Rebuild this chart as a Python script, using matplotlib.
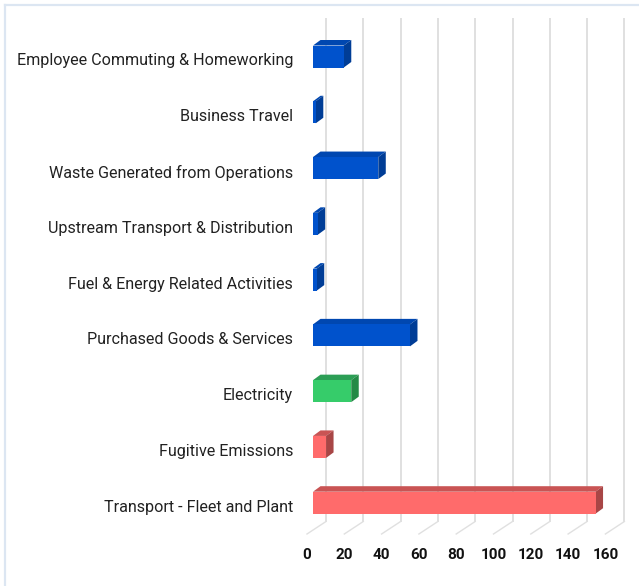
import matplotlib
matplotlib.use("Agg")
import matplotlib.pyplot as plt
from matplotlib.patches import Polygon
from matplotlib.lines import Line2D
from matplotlib.transforms import ScaledTranslation

# ---- data (top to bottom as displayed) ----
categories = [
    "Employee Commuting & Homeworking",
    "Business Travel",
    "Waste Generated from Operations",
    "Upstream Transport & Distribution",
    "Fuel & Energy Related Activities",
    "Purchased Goods & Services",
    "Electricity",
    "Fugitive Emissions",
    "Transport - Fleet and Plant",
]
values = [16.5, 1.5, 35, 2.5, 2, 52, 20.5, 7, 151.5]
groups = ["blue", "blue", "blue", "blue", "blue", "blue", "green", "red", "red"]
x_ticks = [0, 20, 40, 60, 80, 100, 120, 140, 160]

# ---- style ----
palette = {
    "blue": ("#0052CC", "#0047B0", "#003D96"),
    "green": ("#36CC6A", "#2C9E55", "#248A46"),
    "red": ("#FF6B6B", "#C95454", "#A84646"),
}
W, H, DPI = 639, 586, 100
plt.rcParams["font.family"] = ["Roboto", "DejaVu Sans"]

fig = plt.figure(figsize=(W / DPI, H / DPI), dpi=DPI)
fig.patch.set_facecolor("white")

# axes placed so that the bar front plane maps to pixels
px0, px_per_unit = 313.0, 1.865
xmax = 160
top_c, bot_c = 56.5, 502.7
n = len(categories)
step = (bot_c - top_c) / (n - 1)
ax_left = px0 / W
ax_right = (px0 + xmax * px_per_unit) / W
ax_top = 1 - (top_c - step / 2) / H
ax_bot = 1 - (bot_c + step / 2) / H
ax = fig.add_axes([ax_left, ax_bot, ax_right - ax_left, ax_top - ax_bot])
ax.set_xlim(0, xmax)
ax.set_ylim(-0.5, n - 0.5)
ax.axis("off")

def px_off(dx, dy):
    return ax.transData + ScaledTranslation(dx / DPI, dy / DPI, fig.dpi_scale_trans)

ypos = [n - 1 - i for i in range(n)]

# back-wall gridlines, floor depth lines and tick labels
back_dx = 13
grid_top = -0.5 + (bot_c + step / 2 - 18) / step
grid_bot = -0.5 + (bot_c + step / 2 - 521.5) / step
for t in x_ticks:
    ax.plot([t, t], [grid_bot, grid_top], color="#e0e0e0", lw=1.4,
            transform=px_off(back_dx, 0), clip_on=False, zorder=0,
            solid_capstyle="butt")
    x_b, y_b = px_off(back_dx, 0).transform((t, grid_bot))
    fig.add_artist(Line2D([x_b / W, (x_b - 19) / W], [y_b / H, (y_b - 12.5) / H],
                          color="#e0e0e0", lw=1.0, transform=fig.transFigure, zorder=0))
    ax.text(t, grid_bot, f"{t}", transform=px_off(back_dx - 19, -33.5),
            ha="center", va="center", fontsize=11, fontweight="bold",
            color="#111111", clip_on=False)

# 3D bars
bar_h = 22 / step
dxu = 7.5 / px_per_unit
dyu = 5.5 / step
for y, v, g in zip(ypos, values, groups):
    front, topc, sidec = palette[g]
    lo, hi = y - bar_h / 2, y + bar_h / 2
    ax.barh(y, v, height=bar_h, color=front, zorder=3, linewidth=0)
    ax.add_patch(Polygon([(0, hi), (v, hi), (v + dxu, hi + dyu), (dxu, hi + dyu)],
                         closed=True, facecolor=topc, edgecolor="none", zorder=2,
                         clip_on=False))
    ax.add_patch(Polygon([(v, lo), (v, hi), (v + dxu, hi + dyu), (v + dxu, lo + dyu)],
                         closed=True, facecolor=sidec, edgecolor="none", zorder=2,
                         clip_on=False))

# category labels
for y, c in zip(ypos, categories):
    ax.text(0, y, c, transform=px_off(-20, -4.5), ha="right", va="center",
            fontsize=11.6, color="#222222", clip_on=False)

# chart border (top and left)
fig.add_artist(Line2D([4.5 / W, 1], [1 - 4.5 / H, 1 - 4.5 / H], color="#dce6f2",
                      lw=1.6, transform=fig.transFigure))
fig.add_artist(Line2D([4.5 / W, 4.5 / W], [0, 1 - 4.5 / H], color="#dce6f2",
                      lw=1.6, transform=fig.transFigure))

fig.savefig("out.png", dpi=DPI, facecolor="white")
